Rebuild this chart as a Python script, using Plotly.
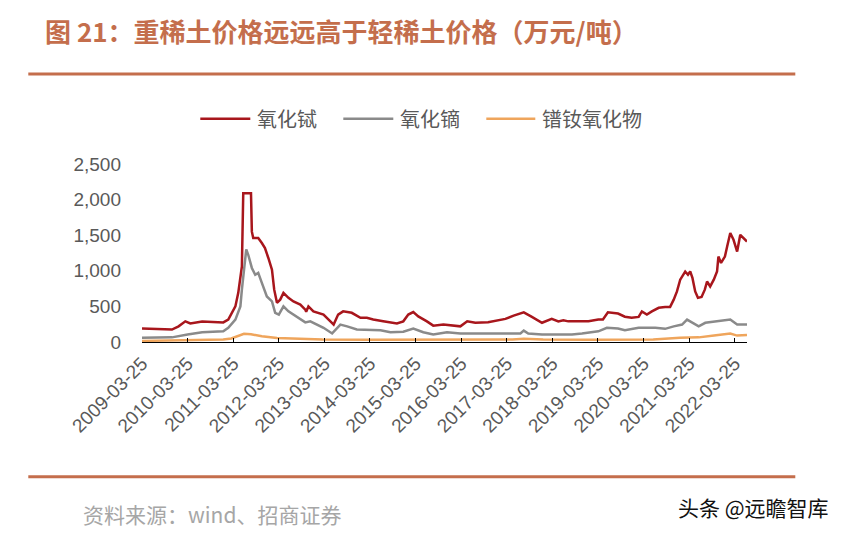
import plotly.graph_objects as go

# ---------------- data ----------------
tb_dates = ["2009-03-25","2009-11-20","2010-01-12","2010-03-07","2010-04-16","2010-07-20","2011-01-05",
            "2011-02-14","2011-04-12","2011-05-05","2011-06-03","2011-06-14","2011-08-15","2011-08-22",
            "2011-09-02","2011-10-12","2011-11-10","2011-12-05","2012-01-01","2012-01-30","2012-02-17",
            "2012-03-10","2012-04-05","2012-05-01","2012-06-10","2012-07-20","2012-09-13","2012-10-23",
            "2012-10-30","2012-11-17","2012-12-27","2013-03-18","2013-05-12","2013-06-07","2013-07-13",
            "2013-08-22","2013-10-30","2014-01-08","2014-02-28","2014-04-20","2014-07-09","2014-10-27",
            "2014-12-17","2015-01-26","2015-03-07","2015-04-16","2015-06-24","2015-08-14","2015-11-03",
            "2016-03-18","2016-05-12","2016-07-16","2016-10-26","2016-12-24","2017-03-14","2017-05-19",
            "2017-08-08","2017-10-12","2018-01-01","2018-03-20","2018-05-12","2018-06-21","2018-07-31",
            "2019-01-08","2019-03-28","2019-05-04","2019-06-13","2019-09-02","2019-10-27","2019-12-20",
            "2020-02-14","2020-03-11","2020-04-20","2020-05-30","2020-07-24","2020-09-13","2020-10-23",
            "2020-11-21","2020-12-17","2021-01-12","2021-02-21","2021-03-15","2021-04-02","2021-04-20",
            "2021-05-12","2021-06-03","2021-07-02","2021-07-28","2021-08-15","2021-09-09","2021-10-08",
            "2021-11-03","2021-11-14","2021-12-05","2022-01-05","2022-01-23","2022-02-17","2022-03-15",
            "2022-04-13","2022-05-08","2022-06-03","2022-07-01"]
tb_values = [190,175,220,290,260,287,275,
             315,500,690,1060,2090,2090,1550,
             1460,1460,1390,1320,1180,1015,735,
             550,595,690,620,570,525,455,
             425,500,430,385,290,245,385,
             430,410,340,340,315,290,260,
             290,385,420,360,290,230,245,
             220,290,270,277,300,325,370,
             417,353,270,325,290,305,290,
             290,315,315,417,400,355,340,
             353,430,385,430,480,493,493,
             595,710,875,990,945,990,900,
             710,620,633,735,850,780,875,
             990,1200,1110,1200,1340,1530,1435,
             1270,1505,1460,1410]

dy_dates = ["2009-03-25","2009-11-20","2010-03-25","2010-07-20","2011-01-05","2011-02-14","2011-04-12",
            "2011-05-22","2011-06-03","2011-07-08","2011-07-24","2011-08-22","2011-09-18","2011-10-12",
            "2011-11-10","2011-12-20","2012-01-30","2012-02-25","2012-03-25","2012-05-01","2012-06-10",
            "2012-08-10","2012-10-23","2012-12-02","2013-03-18","2013-05-26","2013-07-31","2013-09-23",
            "2013-12-10","2014-06-17","2014-09-05","2014-12-17","2015-03-07","2015-05-26","2015-08-14",
            "2015-12-02","2016-03-18","2017-03-14","2017-07-12","2017-08-08","2017-09-13","2018-01-01",
            "2018-08-29","2018-11-17","2019-03-28","2019-06-05","2019-09-02","2019-10-27","2020-02-14",
            "2020-06-27","2020-09-13","2020-11-21","2021-01-27","2021-03-08","2021-04-17","2021-06-09",
            "2021-08-01","2021-10-20","2022-02-17","2022-04-13","2022-07-01"]
dy_values = [60,65,105,137,150,200,315,
             500,735,1300,1225,1040,945,970,
             830,640,570,410,385,500,430,
             360,275,290,200,120,245,220,
             175,165,137,145,190,137,105,
             137,120,120,120,160,120,105,
             105,120,150,200,190,165,200,
             200,185,220,245,315,270,220,
             270,290,315,245,245]

prnd_dates = ["2009-03-25","2010-01-10","2010-07-10","2011-01-05","2011-03-10","2011-05-10","2011-06-20",
              "2011-08-15","2011-11-10","2012-03-10","2012-08-10","2013-03-10","2014-03-10","2015-03-10",
              "2016-03-10","2017-05-10","2017-08-08","2018-01-10","2019-01-10","2020-01-10","2020-06-10",
              "2021-01-10","2021-06-10","2021-10-10","2022-02-17","2022-04-13","2022-07-01"]
prnd_values = [15,20,25,35,50,90,115,
               110,80,55,45,35,30,30,
               30,35,45,35,30,30,35,
               60,65,90,120,90,100]

series_names = ["氧化铽", "氧化镝", "镨钕氧化物"]
series_colors = ["#A8161C", "#8A8A8A", "#EFA55C"]
tick_dates = [f"{y}-03-25" for y in range(2009, 2023)]
y_ticks = [0, 500, 1000, 1500, 2000, 2500]

title_text = "图 21：重稀土价格远远高于轻稀土价格（万元/吨）"
source_text = "资料来源：wind、招商证券"
watermark_text = "头条 @远瞻智库"

# ---------------- layout helpers ----------------
W, H = 845, 534
L, R, T, B = 141.7, 746.7, 163.5, 342.5  # plot area in px


def px(x):
    return (x - L) / (R - L)


def py(y):
    return (B - y) / (B - T)


accent = "#C46E4C"
font_cjk = "Noto Sans CJK SC"
font_num = "Liberation Sans, Arial, Noto Sans CJK SC"

fig = go.Figure()
for name, color, xs, ys in zip(series_names, series_colors,
                               [tb_dates, dy_dates, prnd_dates],
                               [tb_values, dy_values, prnd_values]):
    fig.add_trace(go.Scatter(x=xs, y=ys, mode="lines", name=name,
                             line=dict(color=color, width=2.5), showlegend=False))

fig.update_layout(
    width=W, height=H,
    margin=dict(l=L, r=W - R, t=T, b=H - B, pad=0),
    paper_bgcolor="white", plot_bgcolor="white",
    showlegend=False,
    xaxis=dict(type="date", range=["2009-03-25", "2022-07-01"],
               tickvals=tick_dates, ticktext=tick_dates, tickangle=-45,
               tickfont=dict(family=font_num, size=19, color="#595959"),
               showgrid=False, zeroline=False, showline=True, linecolor="black", linewidth=1,
               ticks="inside", ticklen=4, tickcolor="black", tickwidth=1,
               ticklabelstandoff=2),
    yaxis=dict(range=[0, 2500], tickvals=y_ticks, tickformat=",",
               tickfont=dict(family=font_num, size=19, color="#595959"),
               showgrid=False, zeroline=False, showline=False, ticks="",
               ticklabelstandoff=20),
)

# manual legend (long line samples like the reference)
legend_line_x = [(200, 250), (343, 393), (486, 535)]
legend_y = 118
for name, color, (x0, x1) in zip(series_names, series_colors, legend_line_x):
    fig.add_shape(type="line", xref="paper", yref="paper", x0=px(x0), x1=px(x1),
                  y0=py(legend_y), y1=py(legend_y), line=dict(color=color, width=2.5))
    fig.add_annotation(text=name, xref="paper", yref="paper", x=px(x1 + 5), y=py(legend_y),
                       xanchor="left", yanchor="middle", showarrow=False,
                       font=dict(family=font_cjk, size=20, color="#595959"))

# title
fig.add_annotation(text=title_text, xref="paper", yref="paper", x=px(43), y=py(29),
                   xanchor="left", yanchor="middle", showarrow=False,
                   font=dict(family=font_cjk, size=26, color=accent, weight="bold"))
# separators
for yy in (73, 478):
    fig.add_shape(type="line", xref="paper", yref="paper", x0=px(28), x1=px(795),
                  y0=py(yy), y1=py(yy), line=dict(color=accent, width=3))
# source
fig.add_annotation(text=source_text, xref="paper", yref="paper", x=px(81), y=py(515),
                   xanchor="left", yanchor="middle", showarrow=False,
                   font=dict(family=font_cjk, size=21, color="#A6A6A6"))
# watermark
fig.add_annotation(text=watermark_text, xref="paper", yref="paper", x=px(831), y=py(508),
                   xanchor="right", yanchor="middle", showarrow=False,
                   font=dict(family=font_cjk, size=21, color="#111111"))

fig.write_html("out.html")
